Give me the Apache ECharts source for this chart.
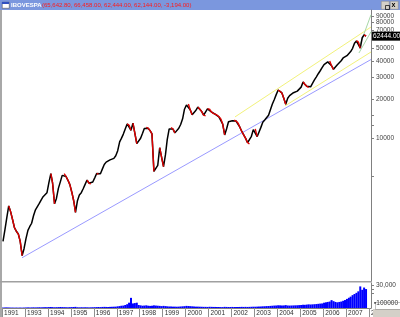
<!DOCTYPE html>
<html><head><meta charset="utf-8">
<script src="https://cdn.jsdelivr.net/npm/echarts@6/dist/echarts.min.js"></script>
<style>html,body{margin:0;padding:0;background:#fff}#c{width:400px;height:317px}</style>
</head><body><div id="c"></div>
<script>
// ---- DATA (monthly, starting Jan 1992) ----
const startYear = 1992;
const priceClose = [
1550,1920,2370,2940,2650,2300,1990,1860,1770,1550,1200,1360,
1630,1890,2020,2150,2460,2740,2800,3070,3280,3470,3590,3720,
4470,5260,4420,3050,3360,4030,4510,5090,5250,4990,4660,4310,
3760,3210,2610,3230,3580,3730,4000,4330,4680,4420,4370,4520,
4870,5260,5220,5250,5700,6200,6460,6600,6730,6830,6920,7250,
7940,9310,9910,10710,11740,12860,12590,11470,13030,10880,9010,9270,
9930,10860,11860,12100,11910,11400,10750,5470,5630,6100,8370,7080,
5970,7390,9680,11740,12060,11720,10940,11320,11890,12730,14100,16760,
18070,18400,16610,15180,15710,16460,17400,16760,16050,15040,14860,16850,
16820,15990,15540,15350,15120,14620,14130,12820,10550,11720,13360,13510,
13630,13780,13550,13100,12120,11220,10570,9910,9170,8960,10290,11610,
11760,10240,11080,12080,13240,13780,14250,15040,16700,18400,19950,21790,
23670,23080,22470,20320,18340,20430,21400,21990,22550,22880,23210,23550,
24940,27340,26280,25300,24770,25080,26660,28390,30010,31740,33500,35420,
37450,38820,39310,39880,36660,34350,35800,37320,38480,40100,42170,43090,
43950,45310,47320,50210,54930,57260,56440,50300,60660,63900,62444
];
const volume = [
600,700,800,700,600,600,500,600,500,600,500,600,
700,800,700,800,900,800,900,1000,900,1000,1100,1000,
1200,1300,1200,1000,1100,1200,1300,1200,1100,1000,900,1100,
1200,1300,1500,1000,900,1000,900,1000,900,800,900,1000,
1100,1200,1300,1200,1400,1500,1400,1300,1500,1600,1700,1800,
2200,2500,3000,3200,4000,5000,7000,13400,6000,6500,7000,4000,
3500,3000,3200,3500,3000,2800,3000,3500,3200,3000,2800,2500,
2800,2500,2200,2000,2000,1800,1800,1700,1800,2000,2200,2400,
2800,2600,2400,2200,2000,1800,1800,1700,1600,1500,1500,1400,
1600,1500,1400,1400,1300,1300,1200,1200,1500,1400,1300,1300,
1400,1300,1300,1300,1400,1500,1400,1500,1400,1500,1600,1700,
1700,1800,1900,2000,2200,2300,2500,2600,2800,3000,3200,3300,
3600,3500,3300,3400,3800,3300,3200,3300,3400,3500,3600,3800,
4000,4300,4200,4500,4800,4600,4800,5000,5200,5500,5800,6000,
7000,7500,8000,8500,10400,9000,8000,7500,8000,8500,9500,10500,
12000,13500,15000,17000,18500,20000,22000,28500,24000,27000,25000
];
const blueTrend   = [['1992-11-13', 1155], ['2008-02-02', 41000]];
const yellowUpper = [['2002-02-27', 14590], ['2008-02-02', 73600]];
const yellowLower = [['2004-05-03', 17780], ['2008-02-02', 46950]];
const greenA      = [['2007-08-10', 53300], ['2008-02-02', 91800]];
const greenB      = [['2007-07-25', 46100], ['2008-02-02', 67600]];
const priceTickLabelsA = [10000, 20000, 30000, 40000, 50000, 70000, 90000];
const priceTickLabelsB = [80000];
const priceTickMarks  = [5000, 10000, 12500, 15000, 20000, 30000, 40000, 50000, 60000, 70000, 80000, 90000];
const volTickLabels = [30000];
const volTickMarks = [20000, 25000, 30000];
const xLabelDates = ['1991-12-31','1993-01-01','1994-01-01','1995-01-01','1996-01-01','1997-01-01','1998-01-01','1999-01-01','2000-01-01','2001-01-01','2002-01-01','2003-01-01','2004-01-01','2005-01-01','2006-01-01','2007-01-01','2008-01-01'];
const xLabelTexts = ['1991','1993','1994','1995','1996','1997','1998','1999','2000','2001','2002','2003','2004','2005','2006','2007','2008'];
const titleText = 'IBOVESPA';
const titleValues = '(65,642.80, 66,458.00, 62,444.00, 62,144.00, -3,194.00)';
const volUnit = '100000';

// ---- build ----
function ts(s){const p=s.split('-').map(Number);return Date.UTC(p[0],p[1]-1,p[2]);}
const dates = priceClose.map((_,i)=>Date.UTC(startYear, i, 15));
const priceData = dates.map((d,i)=>[d, priceClose[i]]);
const redData = [];
for (let i=1;i<priceClose.length;i++){
  if (priceClose[i] < priceClose[i-1]) {
    redData.push([dates[i-1], priceClose[i-1]], [dates[i], priceClose[i]], [dates[i], '-']);
  }
}
const volData = dates.map((d,i)=>[d, volume[i]]);
const xMin = ts('1991-12-30'), xMax = ts('2008-02-02');
const xLabelTs = xLabelDates.map(ts);
const labelMap = {}; xLabelTs.forEach((t,i)=>labelMap[t]=xLabelTexts[i]);
const tl = a => a.map(p=>[ts(p[0]), p[1]]);
const lastVal = priceClose[priceClose.length-1];

const chart = echarts.init(document.getElementById('c'), null, {renderer:'canvas'});
const trend = (data,color)=>({type:'line', xAxisIndex:0, yAxisIndex:0, data:tl(data), showSymbol:false, silent:true, lineStyle:{color, width:1}, z:2});
const priceLabelStyle = {fontSize:6.5, color:'#404040', margin:5, showMaxLabel:true, showMinLabel:true, hideOverlap:false, formatter:(v)=>String(Math.round(v))};
chart.setOption({
  animation:false,
  backgroundColor:'#ffffff',
  textStyle:{fontFamily:'Liberation Sans'},
  title:[
    {text:titleText, left:11, top:2, padding:0, textStyle:{color:'#ffffff', fontWeight:'bold', fontSize:6, fontFamily:'Liberation Sans', lineHeight:6}},
    {text:titleValues, left:42, top:2, padding:0, textStyle:{color:'#ff1a1a', fontWeight:'normal', fontSize:6, fontFamily:'Liberation Sans', lineHeight:6}}
  ],
  grid:[{left:2, right:29, top:10, height:271},{left:2, right:29, top:283, height:25}],
  xAxis:[
    {type:'value', gridIndex:0, min:xMin, max:xMax, axisLine:{show:true, onZero:false, lineStyle:{color:'#a0a0a0', type:'dotted'}}, axisTick:{show:false}, axisLabel:{show:false}, splitLine:{show:false}},
    {type:'value', gridIndex:1, min:xMin, max:xMax, axisLine:{show:true, onZero:false, lineStyle:{color:'#808080'}},
      axisTick:{show:true, customValues:xLabelTs, length:9, lineStyle:{color:'#909090'}},
      axisLabel:{customValues:xLabelTs, formatter:(v)=>labelMap[v]||'', align:'left', margin:2, fontSize:6.5, color:'#303030', padding:[0,0,0,2], hideOverlap:false},
      splitLine:{show:false}}
  ],
  yAxis:[
    {type:'log', logBase:10, gridIndex:0, position:'right', min:760, max:100000,
      axisLine:{show:true, lineStyle:{color:'#808080'}},
      axisTick:{show:true, customValues:priceTickMarks, length:3, lineStyle:{color:'#808080'}},
      axisLabel:Object.assign({customValues:priceTickLabelsA}, priceLabelStyle),
      splitLine:{show:false}},
    {type:'value', gridIndex:1, position:'right', min:0, max:33000,
      axisLine:{show:true, lineStyle:{color:'#808080'}},
      axisTick:{show:true, customValues:volTickMarks, length:3, lineStyle:{color:'#808080'}},
      axisLabel:{customValues:volTickLabels, fontSize:6.5, color:'#404040', margin:5},
      splitLine:{show:false}},
    {type:'log', logBase:10, gridIndex:0, position:'right', min:760, max:100000,
      axisLine:{show:false}, axisTick:{show:false},
      axisLabel:Object.assign({customValues:priceTickLabelsB}, priceLabelStyle),
      splitLine:{show:false}}
  ],
  series:[
    trend(blueTrend,'#9a9aff'),
    trend(yellowUpper,'#f2f27a'),
    trend(yellowLower,'#f2f27a'),
    trend(greenA,'#a8d8a8'),
    trend(greenB,'#a8d8a8'),
    {type:'line', xAxisIndex:0, yAxisIndex:0, data:priceData, showSymbol:false, clip:false, lineStyle:{color:'#000000', width:1.5}, z:3,
      endLabel:{show:true, distance:6, formatter:()=>lastVal.toFixed(2), backgroundColor:'#000', color:'#fff', fontSize:6.5, lineHeight:7, padding:[1,1,1,1]}},
    {type:'line', xAxisIndex:0, yAxisIndex:0, data:redData, showSymbol:false, connectNulls:false, lineStyle:{color:'#e00000', width:1.4}, z:4},
    {type:'bar', xAxisIndex:1, yAxisIndex:1, data:volData, barWidth:2, itemStyle:{color:'#0000ff'}}
  ],
  graphic:[
    {type:'rect', left:0, top:0, shape:{width:400, height:10}, style:{fill:'#7b97de'}, z:-1},
    {type:'rect', left:2, top:2, shape:{width:7, height:6}, style:{fill:'#ffffff', stroke:'#404040', lineWidth:0.5}, z:5},
    {type:'rect', left:2, top:2, shape:{width:7, height:2}, style:{fill:'#3050c0'}, z:6},
    {type:'rect', left:381, top:1, shape:{width:8, height:8}, style:{fill:'#d4d0c8', stroke:'#808080', lineWidth:0.5}, z:5},
    {type:'rect', left:390, top:1, shape:{width:8, height:8}, style:{fill:'#d4d0c8', stroke:'#808080', lineWidth:0.5}, z:5},
    {type:'text', left:391.5, top:1.5, style:{text:'x', fontSize:7, fill:'#000', fontWeight:'bold'}, z:6},
    {type:'rect', left:383, top:3, shape:{width:4, height:4}, style:{fill:'none', stroke:'#000', lineWidth:0.7}, z:6},
    {type:'rect', left:0, top:10, shape:{width:2, height:307}, style:{fill:'#a8a8a8'}, z:10},
    {type:'rect', left:0, top:281, shape:{width:372, height:1.5}, style:{fill:'#a0a0a0'}, z:10},
    {type:'rect', left:373, top:309, shape:{width:27, height:8}, style:{fill:'#d4d0c8'}, z:10},
    {type:'text', left:374, top:300, style:{text:'\u25aa'+volUnit, fontSize:6.5, fill:'#303030'}, z:10},
    {type:'rect', left:373, top:300, shape:{width:26, height:7}, style:{fill:'none', stroke:'#808080', lineWidth:0.5}, z:10}
  ]
});
</script></body></html>
